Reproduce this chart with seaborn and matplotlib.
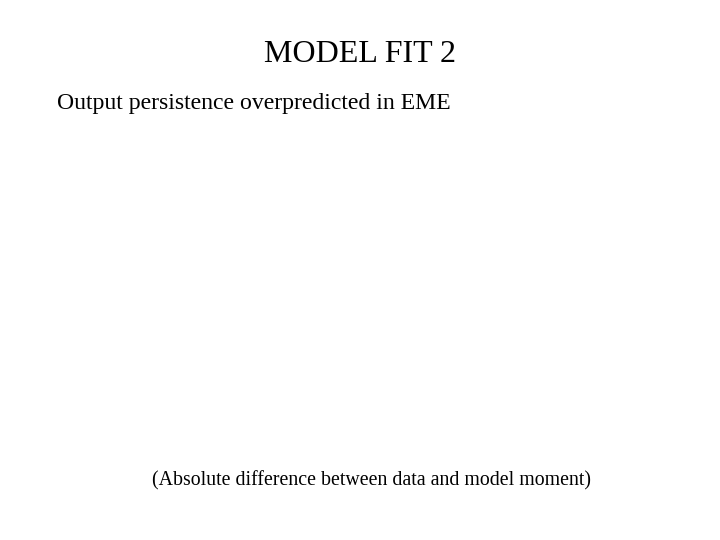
import matplotlib
matplotlib.use("Agg")
import matplotlib.pyplot as plt
import seaborn as sns

# Slide content (the chart area in the reference is empty)
title = "MODEL FIT 2"
subtitle = "Output persistence overpredicted in EME"
caption = "(Absolute difference between data and model moment)"
categories = []
values = []

sns.set_theme(style="white")
plt.rcParams["font.family"] = ["Liberation Serif", "DejaVu Serif"]

fig = plt.figure(figsize=(7.2, 5.4), dpi=100)
ax = fig.add_axes([0.07, 0.16, 0.86, 0.60])
if categories:
    sns.barplot(x=categories, y=values, ax=ax)
ax.set_axis_off()

fig.text(360 / 720, 1 - 55 / 540, title, ha="center", va="center",
         fontsize=23, color="black")
fig.text(57 / 720, 1 - 103 / 540, subtitle, ha="left", va="center",
         fontsize=17.1, color="black")
fig.text(371.5 / 720, 1 - 481 / 540, caption, ha="center", va="center",
         fontsize=14.3, color="black")

fig.savefig("out.png", dpi=100, facecolor="white")
